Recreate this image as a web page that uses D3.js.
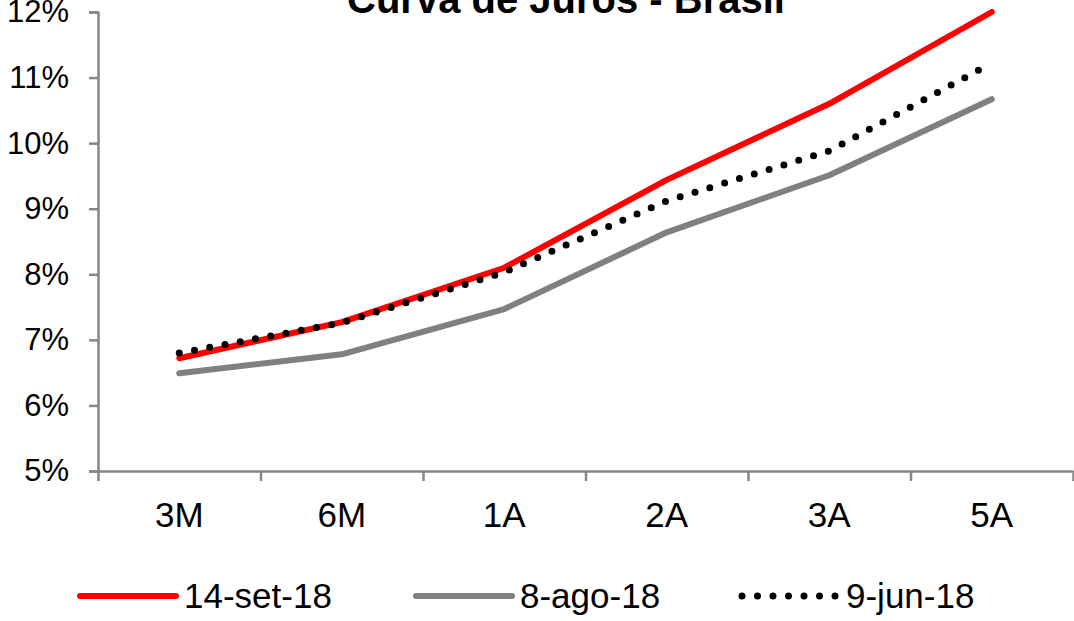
<!DOCTYPE html>
<html>
<head>
<meta charset="utf-8">
<script src="https://cdn.jsdelivr.net/npm/d3@7"></script>
<style>
  html, body { margin: 0; padding: 0; background: #fff; }
  svg { display: block; font-family: "Liberation Sans", Arial, sans-serif; }
</style>
</head>
<body>
<svg id="chart" width="1074" height="621"></svg>
<script>
// Chart data
var categories = ['3M', '6M', '1A', '2A', '3A', '5A'];
var set14 = [6.72, 7.27, 8.10, 9.44, 10.60, 12.00];
var ago08 = [6.49, 6.78, 7.47, 8.64, 9.51, 10.67];
var jun09 = [6.80, 7.26, 8.03, 9.12, 9.88, 11.22];
var yTicks = [5, 6, 7, 8, 9, 10, 11, 12];

var series = [
  { name: '14-set-18', values: set14, color: '#ff0000', dash: null, width: 6 },
  { name: '8-ago-18', values: ago08, color: '#808080', dash: null, width: 6 },
  { name: '9-jun-18', values: jun09, color: '#000000', dash: '0 15.5', width: 7 }
];

var svg = d3.select('#chart');
var margin = { top: 12, right: 1, bottom: 150, left: 98 };
var width = 1074, height = 621;
var axisColor = '#868686';
var yFontSize = 31;
var fontSize = 35;

var x = d3.scaleBand().domain(categories).range([margin.left, width - margin.right]).padding(0);
var xEdges = d3.scaleLinear().domain([0, categories.length]).range([margin.left, width - margin.right]);
var y = d3.scaleLinear().domain([5, 12]).range([height - margin.bottom, margin.top]);

// Title (partly cut off at top, as in the source)
svg.append('text')
  .attr('x', 566)
  .attr('y', 13)
  .attr('text-anchor', 'middle')
  .style('font-size', '40px')
  .style('font-weight', 'bold')
  .text('Curva de Juros - Brasil');

// Y axis
var yAxis = svg.append('g')
  .attr('transform', 'translate(' + margin.left + ',0)')
  .call(d3.axisLeft(y).tickValues(yTicks).tickSize(9).tickPadding(20)
    .tickFormat(function (d) { return d + '%'; }));

// X axis: boundary ticks
var xAxis = svg.append('g')
  .attr('transform', 'translate(0,' + y(5) + ')')
  .call(d3.axisBottom(xEdges).ticks(categories.length).tickSize(10).tickSizeOuter(0).tickFormat(''));

// X axis: category labels
var xLabels = svg.append('g')
  .attr('transform', 'translate(0,' + y(5) + ')')
  .call(d3.axisBottom(x).tickSize(0).tickPadding(31));
xLabels.select('.domain').remove();

[yAxis, xAxis].forEach(function (g) {
  g.selectAll('.domain').attr('stroke', axisColor).attr('stroke-width', 2.5);
  g.selectAll('.tick line').attr('stroke', axisColor).attr('stroke-width', 2.5);
});
yAxis.selectAll('text').attr('fill', '#000').style('font-size', yFontSize + 'px')
  .style('font-family', '"Liberation Sans", Arial, sans-serif');
xLabels.selectAll('text').attr('fill', '#000').style('font-size', fontSize + 'px')
  .style('font-family', '"Liberation Sans", Arial, sans-serif');

// Lines
var line = d3.line()
  .x(function (d, i) { return x(categories[i]) + x.bandwidth() / 2; })
  .y(function (d) { return y(d); });

// grey first, then red, dotted on top
var order = [1, 0, 2];
order.forEach(function (k) {
  var s = series[k];
  svg.append('path')
    .datum(s.values)
    .attr('d', line)
    .attr('fill', 'none')
    .attr('stroke', s.color)
    .attr('stroke-width', s.width)
    .attr('stroke-linecap', 'round')
    .attr('stroke-linejoin', 'round')
    .attr('stroke-dasharray', s.dash);
});

// Legend
var legendX = [80, 416, 742];
var legendY = 596;
series.forEach(function (s, i) {
  var g = svg.append('g');
  g.append('line')
    .attr('x1', legendX[i]).attr('x2', legendX[i] + 96)
    .attr('y1', legendY).attr('y2', legendY)
    .attr('stroke', s.color)
    .attr('stroke-width', s.width)
    .attr('stroke-linecap', 'round')
    .attr('stroke-dasharray', s.dash);
  g.append('text')
    .attr('x', legendX[i] + 104)
    .attr('y', legendY + 12)
    .style('font-size', fontSize + 'px')
    .text(s.name);
});
</script>
</body>
</html>
